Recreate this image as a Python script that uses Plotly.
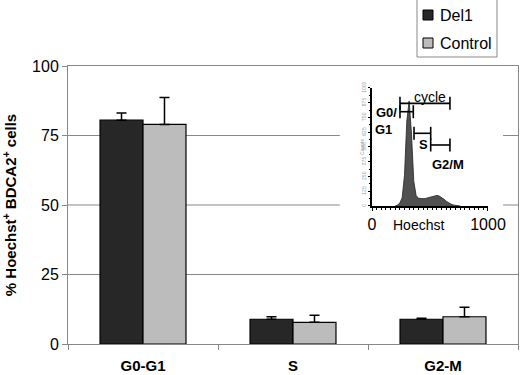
import plotly.graph_objects as go

# ---- main bar chart data ----
categories = ["G0-G1", "S", "G2-M"]
series_names = ["Del1", "Control"]
del1_values = [80.5, 8.9, 8.9]
del1_errors = [2.6, 0.9, 0.4]
control_values = [79.0, 7.8, 9.8]
control_errors = [9.7, 2.5, 3.4]
y_ticks = [0, 25, 50, 75, 100]

# ---- inset histogram data (Hoechst channel, counts) ----
hist_x = [200, 220, 240, 260, 280, 300, 320, 340, 360, 380, 400, 420, 440,
          460, 480, 500, 520, 540, 560, 580, 600, 620, 640, 660, 680, 700,
          720, 740, 760]
hist_counts = [0, 8, 25, 70, 260, 720, 890, 620, 210, 90, 66, 62, 62,
               64, 68, 74, 80, 86, 90, 84, 74, 58, 40, 26, 16, 9,
               4, 1, 0]
inset_ticks = [0, 1000]
inset_y_ticks = [0, 125, 250, 375, 500, 625, 750, 875, 1000]

# gates drawn on the histogram
gate_start = [241, 241, 362, 506]
gate_end = [672, 356, 506, 672]
gate_level = [870, 799, 616, 517]

FONT = "Liberation Sans, Arial, sans-serif"
DEL1_COLOR = "#272727"
CONTROL_COLOR = "#bcbcbc"

fig = go.Figure()

fig.add_trace(go.Bar(
    name=series_names[0], x=categories, y=del1_values,
    marker=dict(color=DEL1_COLOR, line=dict(color="#000000", width=1.2)),
    error_y=dict(type="data", array=del1_errors, arrayminus=[0] * 3,
                 symmetric=False, color="#000000", thickness=1.5, width=5),
))
fig.add_trace(go.Bar(
    name=series_names[1], x=categories, y=control_values,
    marker=dict(color=CONTROL_COLOR, line=dict(color="#000000", width=1.2)),
    error_y=dict(type="data", array=control_errors, arrayminus=[0] * 3,
                 symmetric=False, color="#000000", thickness=1.5, width=5),
))

# inset histogram
fig.add_trace(go.Scatter(
    x=hist_x, y=hist_counts, xaxis="x2", yaxis="y2",
    mode="lines", line=dict(color="#222222", width=0.8),
    fill="tozeroy", fillcolor="#505050", showlegend=False, hoverinfo="skip",
))

# gates as capped horizontal segments
cap = 55
for s, e, lv in zip(gate_start, gate_end, gate_level):
    fig.add_trace(go.Scatter(
        x=[s, s, None, s, e, None, e, e],
        y=[lv - cap, lv + cap, None, lv, lv, None, lv - cap, lv + cap],
        xaxis="x2", yaxis="y2", mode="lines",
        line=dict(color="#000000", width=1.6),
        showlegend=False, hoverinfo="skip",
    ))

# gridlines drawn as shapes so they stop behind the inset
inset_left, inset_right, inset_bottom = 0.604, 0.967, 40
for t in y_ticks[1:-1]:
    if t >= inset_bottom:
        segs = [(0, inset_left), (inset_right, 1)]
    else:
        segs = [(0, 1)]
    for a, b in segs:
        fig.add_shape(type="line", xref="x domain", yref="y",
                      x0=a, x1=b, y0=t, y1=t,
                      line=dict(color="#888888", width=1), layer="below")


# manual legend (box, swatches, labels)
def px_x(p):
    return (p - 68) / 450.0


def px_y(p):
    return (344 - p) / 278.0


fig.add_shape(type="rect", xref="paper", yref="paper",
              x0=px_x(417), x1=px_x(497), y0=px_y(57), y1=px_y(-1),
              line=dict(color="#888888", width=1), fillcolor="white")
for name, color, cy in zip(series_names, [DEL1_COLOR, CONTROL_COLOR], [15, 43]):
    fig.add_shape(type="rect", xref="paper", yref="paper",
                  x0=px_x(423), x1=px_x(433), y0=px_y(cy + 5), y1=px_y(cy - 5),
                  line=dict(color="#000000", width=1), fillcolor=color)
    fig.add_annotation(text=name, xref="paper", yref="paper",
                       x=px_x(438), y=px_y(cy), xanchor="left", yanchor="middle",
                       showarrow=False,
                       font=dict(size=16, family=FONT, color="#000000"))

fig.update_layout(
    width=520, height=375,
    margin=dict(l=68, r=2, t=66, b=31, autoexpand=False),
    paper_bgcolor="white", plot_bgcolor="white",
    font=dict(family=FONT, size=16, color="#000000"),
    barmode="group", bargap=0.427, bargroupgap=0,
    showlegend=False,
    xaxis=dict(
        domain=[0, 1],
        tickmode="array", tickvals=categories,
        ticktext=["<b>%s</b>" % c for c in categories],
        tickson="boundaries", ticks="outside", ticklen=5, tickcolor="#888888",
        showline=True, linecolor="#888888", linewidth=1, mirror=True,
        ticklabelstandoff=8, tickfont=dict(size=15),
    ),
    yaxis=dict(
        domain=[0, 1], range=[0, 100],
        tickmode="array", tickvals=y_ticks,
        ticks="outside", ticklen=5, tickcolor="#888888",
        showline=True, linecolor="#888888", linewidth=1, mirror=True,
        showgrid=False, zeroline=False, tickfont=dict(size=16),
        title=dict(text="<b>% Hoechst<sup>+</sup> BDCA2<sup>+</sup> cells</b>",
                   font=dict(size=15), standoff=12),
    ),
    xaxis2=dict(
        domain=[0.6756, 0.9333], anchor="y2", range=[0, 1000],
        tickmode="array", tickvals=inset_ticks,
        ticks="outside", ticklen=3, tickcolor="#000000",
        minor=dict(dtick=40, ticks="outside", ticklen=2, tickcolor="#000000"),
        showline=True, linecolor="#000000", linewidth=1.5,
        showgrid=False, zeroline=False, tickfont=dict(size=16),
    ),
    yaxis2=dict(
        domain=[0.4964, 0.9209], anchor="x2", range=[0, 1000],
        tickmode="array", tickvals=inset_y_ticks,
        ticks="outside", ticklen=2, tickcolor="#000000",
        minor=dict(dtick=62.5, ticks="outside", ticklen=1.5, tickcolor="#000000"),
        showline=True, linecolor="#000000", linewidth=1.5,
        showgrid=False, zeroline=False,
        tickangle=-90, tickfont=dict(size=5, color="#9a9a9a"),
    ),
)

# inset text labels
ann = [
    dict(text="Hoechst", x=405, y=0, yshift=-19, size=14, bold=False),
    dict(text="cycle", x=500, y=925, size=14, bold=False),
    dict(text="G0/", x=125, y=790, size=13, bold=True),
    dict(text="G1", x=100, y=645, size=13, bold=True),
    dict(text="S", x=448, y=518, size=13, bold=True),
    dict(text="G2/M", x=655, y=348, size=13, bold=True),
]
for a in ann:
    fig.add_annotation(
        text=("<b>%s</b>" % a["text"]) if a["bold"] else a["text"],
        x=a["x"], y=a["y"], xref="x2", yref="y2", yshift=a.get("yshift", 0),
        showarrow=False, font=dict(size=a["size"], family=FONT, color="#000000"),
    )
fig.add_annotation(text="Counts", x=-0.13, y=0.5, xref="x2 domain", yref="y2 domain",
                   textangle=-90, showarrow=False,
                   font=dict(size=5, family=FONT, color="#9a9a9a"))

fig.write_html("out.html",
               config={"displayModeBar": False},
               post_script="document.body.style.margin='0';"
                           "document.body.style.padding='0';")
